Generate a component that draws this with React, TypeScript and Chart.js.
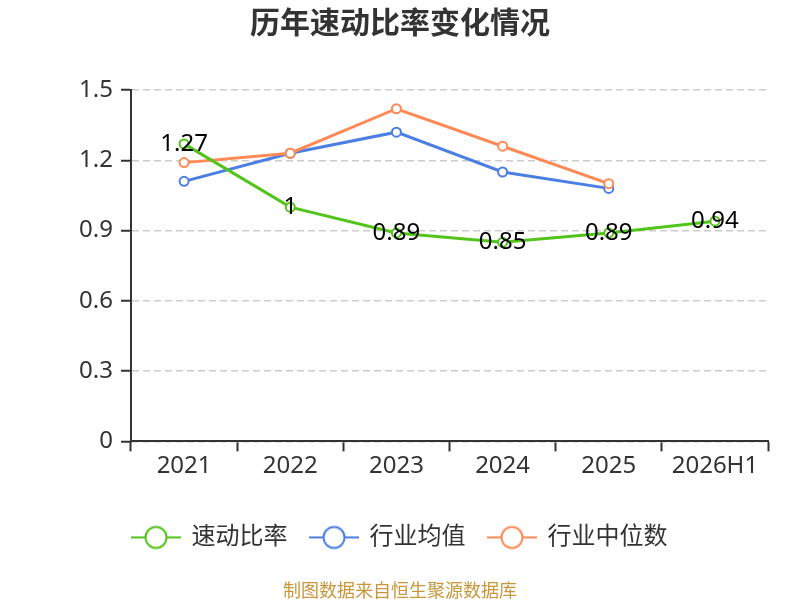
import React, { useEffect, useRef } from 'react';
import { Chart, registerables } from 'chart.js';

Chart.register(...registerables);

const categories = ['2021', '2022', '2023', '2024', '2025', '2026H1'];
const quickRatio = [1.27, 1.0, 0.89, 0.85, 0.89, 0.94];
const industryMean = [1.11, 1.23, 1.32, 1.15, 1.08, null];
const industryMedian = [1.19, 1.23, 1.42, 1.26, 1.1, null];
const yTicks = [0, 0.3, 0.6, 0.9, 1.2, 1.5];
const seriesNames = ['速动比率', '行业均值', '行业中位数'];
const seriesColors = ['#52c41a', '#4b7fe3', '#ff8a56'];
const titleText = '历年速动比率变化情况';
const sourceText = '制图数据来自恒生聚源数据库';

const FONT = '"Noto Sans", "Noto Sans CJK SC", sans-serif';

function makeIcon(color: string): HTMLCanvasElement {
  const c = document.createElement('canvas');
  c.width = 50;
  c.height = 26;
  const g = c.getContext('2d')!;
  g.strokeStyle = color;
  g.lineWidth = 2;
  g.beginPath();
  g.moveTo(0, 13);
  g.lineTo(50, 13);
  g.stroke();
  g.beginPath();
  g.arc(25, 13, 10.5, 0, Math.PI * 2);
  g.fillStyle = '#ffffff';
  g.fill();
  g.stroke();
  return c;
}

const valueLabels = {
  id: 'valueLabels',
  afterDatasetsDraw(chart: any) {
    const meta = chart.getDatasetMeta(0);
    const ctx = chart.ctx;
    ctx.save();
    ctx.font = `24px ${FONT}`;
    ctx.fillStyle = '#000000';
    ctx.textAlign = 'center';
    ctx.textBaseline = 'middle';
    meta.data.forEach((pt: any, i: number) => {
      const v = quickRatio[i];
      if (v == null) return;
      ctx.fillText(String(v), pt.x, pt.y);
    });
    ctx.restore();
  },
};

export default function App() {
  const ref = useRef<HTMLCanvasElement>(null);

  useEffect(() => {
    document.body.style.margin = '0';
    const icons = seriesColors.map(makeIcon);
    const values = [quickRatio, industryMean, industryMedian];
    const orders = [0, 2, 1];
    const chart = new Chart(ref.current!, {
      type: 'line',
      data: {
        labels: categories,
        datasets: values.map((d, i) => ({
          label: seriesNames[i],
          data: d,
          borderColor: seriesColors[i],
          backgroundColor: '#ffffff',
          borderWidth: 3,
          pointRadius: 4.5,
          pointBorderWidth: 2,
          pointBackgroundColor: '#ffffff',
          pointBorderColor: seriesColors[i],
          tension: 0,
          spanGaps: false,
          order: orders[i],
          yAxisID: 'y',
        })),
      },
      options: {
        responsive: false,
        animation: false,
        layout: { padding: 0 },
        font: { family: FONT },
        plugins: {
          tooltip: { enabled: false },
          title: {
            display: true,
            text: titleText,
            color: '#333333',
            font: { family: FONT, size: 30, weight: 'bold' },
            padding: { top: 6, bottom: 48 },
          },
          subtitle: {
            display: true,
            position: 'bottom',
            text: sourceText,
            color: '#c8963c',
            font: { family: FONT, size: 18 },
            padding: { top: 22, bottom: -3 },
          },
          legend: {
            display: true,
            position: 'bottom',
            labels: {
              usePointStyle: true,
              pointStyleWidth: 47,
              boxHeight: 24,
              padding: 23,
              color: '#333333',
              font: { family: FONT, size: 24 },
              sort: (a: any, b: any) => a.datasetIndex - b.datasetIndex,
              generateLabels: (c: any) => {
                const items = Chart.defaults.plugins.legend.labels.generateLabels(c);
                items.forEach((it: any) => {
                  it.pointStyle = icons[it.datasetIndex];
                });
                return items;
              },
            },
          },
        },
        scales: {
          x: {
            offset: true,
            grid: {
              display: true,
              offset: true,
              drawOnChartArea: false,
              drawTicks: true,
              tickLength: 10,
              tickColor: '#333333',
              tickWidth: 2,
            },
            border: { display: true, color: '#333333', width: 2 },
            ticks: {
              color: '#333333',
              font: { family: FONT, size: 24 },
              padding: 0,
              maxRotation: 0,
              autoSkip: false,
            },
            afterFit: (s: any) => {
              s.height = 61;
            },
          },
          y: {
            min: 0,
            max: 1.5,
            grid: {
              color: '#cccccc',
              lineWidth: 1.5,
              drawTicks: true,
              tickLength: 10,
              tickColor: '#333333',
              tickWidth: 2,
              tickBorderDash: [],
            },
            border: { display: true, color: '#333333', width: 2, dash: [7, 4] },
            ticks: {
              color: '#333333',
              font: { family: FONT, size: 24 },
              padding: 8,
              callback: (v: any) => String(Number(Number(v).toFixed(1))),
            },
            afterBuildTicks: (s: any) => {
              s.ticks = yTicks.map((v) => ({ value: v }));
            },
            afterFit: (s: any) => {
              s.width = 131;
            },
          },
          yRight: {
            position: 'right',
            display: true,
            min: 0,
            max: 1.5,
            grid: { display: false, drawOnChartArea: false, drawTicks: false },
            border: { display: false },
            ticks: { display: false },
            afterFit: (s: any) => {
              s.width = 32;
            },
          },
        },
      },
      plugins: [valueLabels],
    } as any);
    return () => chart.destroy();
  }, []);

  return (
    <div style={{ width: 800, height: 600 }}>
      <canvas ref={ref} width={800} height={600} style={{ width: 800, height: 600, display: 'block' }} />
    </div>
  );
}
